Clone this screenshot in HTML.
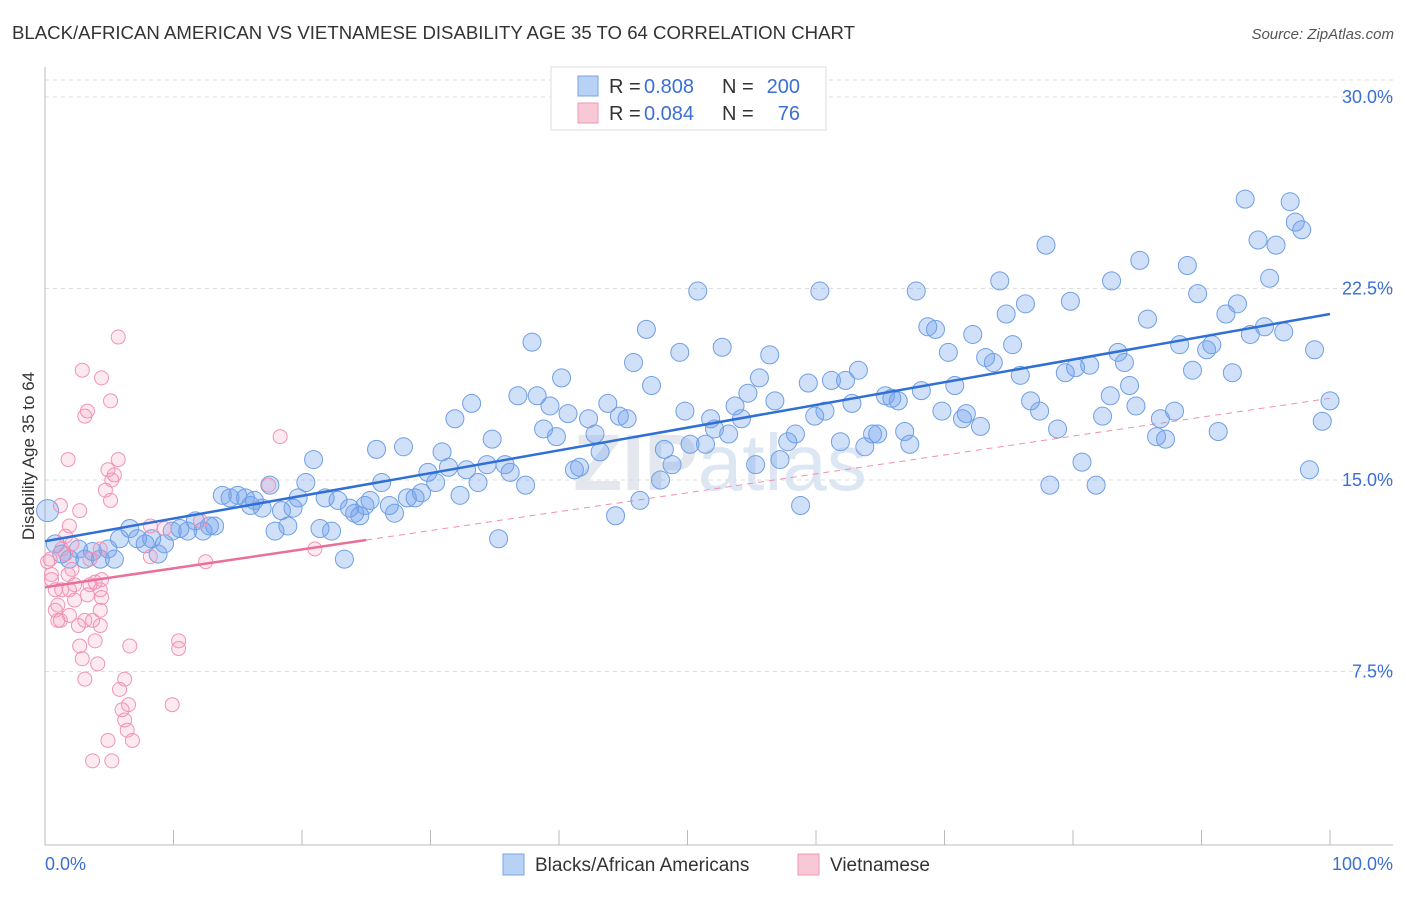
<!DOCTYPE html>
<html><head><meta charset="utf-8"><style>
body{margin:0;background:#fff;font-family:"Liberation Sans",sans-serif;}
svg text{font-family:"Liberation Sans",sans-serif;}
</style></head><body>
<svg id="chart" width="1406" height="892" viewBox="0 0 1406 892">
<text x="12" y="39" font-size="18" fill="#333" textLength="843" lengthAdjust="spacingAndGlyphs">BLACK/AFRICAN AMERICAN VS VIETNAMESE DISABILITY AGE 35 TO 64 CORRELATION CHART</text>
<text x="1394" y="39" font-size="15" fill="#555" font-style="italic" text-anchor="end">Source: ZipAtlas.com</text>
<text x="720" y="490" font-size="80" fill="#e4e8ee" text-anchor="middle" font-weight="bold">ZIP<tspan font-weight="normal" fill="#dde6f3">atlas</tspan></text>
<g id="grid"></g>
<g id="axes"></g>
<g id="lines"></g>
<g id="pts"></g>
<text transform="translate(34,456) rotate(-90)" font-size="17" fill="#333" text-anchor="middle">Disability Age 35 to 64</text>
<text x="45" y="870" font-size="18" fill="#3b6fd4">0.0%</text>
<text x="1393" y="870" font-size="18" fill="#3b6fd4" text-anchor="end">100.0%</text>
<g>
<rect x="551" y="67" width="275" height="63" fill="#fff" stroke="#ddd"/>
<rect x="578" y="76" width="20" height="20" fill="#b8d2f5" stroke="#7aa4e4"/>
<rect x="578" y="103" width="20" height="20" fill="#f9c8d6" stroke="#ee9ab5"/>
<text x="609" y="93" font-size="20" fill="#333">R =</text>
<text x="644" y="93" font-size="20" fill="#3b6fd4">0.808</text>
<text x="722" y="93" font-size="20" fill="#333">N =</text>
<text x="800" y="93" font-size="20" fill="#3b6fd4" text-anchor="end">200</text>
<text x="609" y="120" font-size="20" fill="#333">R =</text>
<text x="644" y="120" font-size="20" fill="#3b6fd4">0.084</text>
<text x="722" y="120" font-size="20" fill="#333">N =</text>
<text x="800" y="120" font-size="20" fill="#3b6fd4" text-anchor="end">76</text>
</g>
<g>
<rect x="503" y="854" width="21" height="21" fill="#b8d2f5" stroke="#7aa4e4"/>
<text x="535" y="871" font-size="19" fill="#333">Blacks/African Americans</text>
<rect x="798" y="854" width="21" height="21" fill="#f9c8d6" stroke="#ee9ab5"/>
<text x="830" y="871" font-size="19" fill="#333">Vietnamese</text>
</g>
</svg>
<script>
const yTicks=[7.5,15,22.5,30];
const yTickLabels=["7.5%","15.0%","22.5%","30.0%"];
const xTicks=[0,10,20,30,40,50,60,70,80,90,100];
const blueX=[0.2,0.8,1.3,1.9,2.6,3.1,3.7,4.3,4.9,5.4,5.8,6.6,7.2,7.8,8.3,8.8,9.3,9.9,10.5,11.1,11.7,12.3,12.8,13.2,13.8,14.4,15.0,15.6,16.0,16.3,16.9,17.5,17.9,18.4,18.9,19.3,19.7,20.3,20.9,21.4,21.8,22.3,22.8,23.3,23.7,24.1,24.5,24.9,25.3,25.8,26.2,26.8,27.2,27.9,28.2,28.8,29.3,29.8,30.4,30.9,31.4,31.9,32.3,32.8,33.2,33.7,34.4,34.8,35.3,35.8,36.2,36.8,37.4,37.9,38.3,38.8,39.3,39.8,40.2,40.7,41.2,41.6,42.3,42.8,43.2,43.8,44.4,44.7,45.3,45.8,46.3,46.8,47.2,47.9,48.2,48.8,49.4,49.8,50.2,50.8,51.4,51.8,52.1,52.7,53.2,53.7,54.2,54.7,55.3,55.6,56.4,56.8,57.2,57.8,58.4,58.8,59.4,59.9,60.3,60.7,61.2,61.9,62.3,62.8,63.3,63.8,64.4,64.8,65.4,65.9,66.4,66.9,67.3,67.8,68.2,68.7,69.3,69.8,70.3,70.8,71.4,71.7,72.2,72.8,73.2,73.8,74.3,74.8,75.3,75.9,76.3,76.7,77.4,77.9,78.2,78.8,79.4,79.8,80.2,80.7,81.3,81.8,82.3,82.9,83.0,83.5,84.0,84.4,84.9,85.2,85.8,86.5,86.8,87.2,87.9,88.3,88.9,89.3,89.7,90.4,90.8,91.3,91.9,92.4,92.8,93.4,93.8,94.4,94.9,95.3,95.8,96.4,96.9,97.3,97.8,98.4,98.8,99.4,100];
const blueY=[13.8,12.5,12.1,11.9,12.3,11.9,12.2,11.9,12.3,11.9,12.7,13.1,12.7,12.5,12.7,12.1,12.5,13.0,13.1,13.0,13.4,13.0,13.2,13.2,14.4,14.3,14.4,14.3,14.0,14.2,13.9,14.8,13.0,13.8,13.2,13.9,14.3,14.9,15.8,13.1,14.3,13.0,14.2,11.9,13.9,13.7,13.6,14.0,14.2,16.2,14.9,14.0,13.7,16.3,14.3,14.3,14.5,15.3,14.9,16.1,15.5,17.4,14.4,15.4,18.0,14.9,15.6,16.6,12.7,15.6,15.3,18.3,14.8,20.4,18.3,17.0,17.9,16.7,19.0,17.6,15.4,15.5,17.4,16.8,16.1,18.0,13.6,17.5,17.4,19.6,14.2,20.9,18.7,15.0,16.2,15.6,20.0,17.7,16.4,22.4,16.4,17.4,17.0,20.2,16.8,17.9,17.4,18.4,15.6,19.0,19.9,18.1,15.8,16.5,16.8,14.0,18.8,17.5,22.4,17.7,18.9,16.5,18.9,18.0,19.3,16.3,16.8,16.8,18.3,18.2,18.1,16.9,16.4,22.4,18.5,21.0,20.9,17.7,20.0,18.7,17.4,17.6,20.7,17.1,19.8,19.6,22.8,21.5,20.3,19.1,21.9,18.1,17.7,24.2,14.8,17.0,19.2,22.0,19.4,15.7,19.5,14.8,17.5,18.3,22.8,20.0,19.6,18.7,17.9,23.6,21.3,16.7,17.4,16.6,17.7,20.3,23.4,19.3,22.3,20.1,20.3,16.9,21.5,19.2,21.9,26.0,20.7,24.4,21.0,22.9,24.2,20.8,25.9,25.1,24.8,15.4,20.1,17.3,18.1];
const pinkX=[0.4,0.5,0.8,1.0,1.2,1.3,1.6,1.8,1.9,2.1,2.3,2.6,2.7,2.9,3.1,3.3,3.5,3.7,3.9,4.1,4.3,4.4,4.7,4.9,5.1,5.2,5.4,5.7,5.8,6.0,6.2,6.4,6.6,6.8,5.7,4.3,2.7,1.9,1.8,3.1,3.3,2.9,4.4,5.1,1.2,1.3,0.8,1.0,2.1,2.3,3.7,5.2,4.9,6.2,6.5,8.2,8.2,9.3,9.9,10.4,10.4,12.1,12.5,17.4,18.3,21.0,0.2,0.5,1.6,1.9,3.1,3.9,4.3,4.3,4.4,3.5];
const pinkY=[11.9,11.3,10.7,10.1,9.5,12.3,12.1,11.3,10.7,11.5,10.3,9.3,8.5,8.0,7.2,10.5,11.9,9.5,8.7,7.8,9.3,10.4,14.6,15.4,14.2,15.0,15.2,15.8,6.8,6.0,5.6,5.2,8.5,4.8,20.6,12.3,13.8,13.2,15.8,17.5,17.7,19.3,19.0,18.1,14.0,10.7,9.9,9.5,12.5,10.9,4.0,4.0,4.8,7.2,6.2,13.2,12.0,13.1,6.2,8.7,8.4,13.4,11.8,14.8,16.7,12.3,11.8,11.1,12.8,9.7,9.5,11.0,9.9,10.7,11.1,10.9];
const blueTrend=[12.6,21.5];
const pinkTrend=[10.8,18.2];
const pinkSolidEnd=25;

const X=v=>45+v*12.85, Y=v=>863-v*25.533;
const NS="http://www.w3.org/2000/svg";
function mk(tag,attrs,parent){const e=document.createElementNS(NS,tag);for(const k in attrs)e.setAttribute(k,attrs[k]);document.getElementById(parent).appendChild(e);return e;}
let g=mk('line',{x1:45,x2:1393,y1:80,y2:80,stroke:'#ddd','stroke-dasharray':'4,4'},'grid');


yTicks.forEach((t,i)=>{
 const l=mk('line',{x1:45,x2:1393,y1:Y(t),y2:Y(t),stroke:'#ddd','stroke-dasharray':'4,4'},'grid');
 
 
 const tx=mk('text',{x:1393,y:Y(t)+6,'font-size':18,fill:'#3b6fd4','text-anchor':'end'},'grid');
 tx.textContent=yTickLabels[i];
 
 
});
let a=mk('line',{x1:45,x2:45,y1:67,y2:845,stroke:'#bbb'},'axes');


a=mk('line',{x1:45,x2:1393,y1:845,y2:845,stroke:'#bbb'},'axes');


xTicks.forEach(t=>{const l=mk('line',{x1:X(t),x2:X(t),y1:830,y2:845,stroke:'#bbb'},'axes');
 
 });
blueX.forEach((x,i)=>{const c=mk('circle',{cx:X(x),cy:Y(blueY[i]),r:i==0?11:9,fill:'rgba(110,160,235,0.32)',stroke:'#6f9fe4','stroke-width':1},'pts');
 
 });
pinkX.forEach((x,i)=>{const c=mk('circle',{cx:X(x),cy:Y(pinkY[i]),r:7,fill:'rgba(245,150,185,0.2)',stroke:'#f093b4','stroke-width':1},'pts');
 
 });
const pv=x=>pinkTrend[0]+(pinkTrend[1]-pinkTrend[0])*x/100;
let t=mk('line',{x1:X(pinkSolidEnd),y1:Y(pv(pinkSolidEnd)),x2:X(100),y2:Y(pv(100)),stroke:'#ef90b2','stroke-width':1,'stroke-dasharray':'6,5'},'lines');


t=mk('line',{x1:X(0),y1:Y(pv(0)),x2:X(pinkSolidEnd),y2:Y(pv(pinkSolidEnd)),stroke:'#e8709a','stroke-width':2.5},'pts');


t=mk('line',{x1:X(0),y1:Y(blueTrend[0]),x2:X(100),y2:Y(blueTrend[1]),stroke:'#2f6fd6','stroke-width':2.5},'pts');


</script>
</body></html>
